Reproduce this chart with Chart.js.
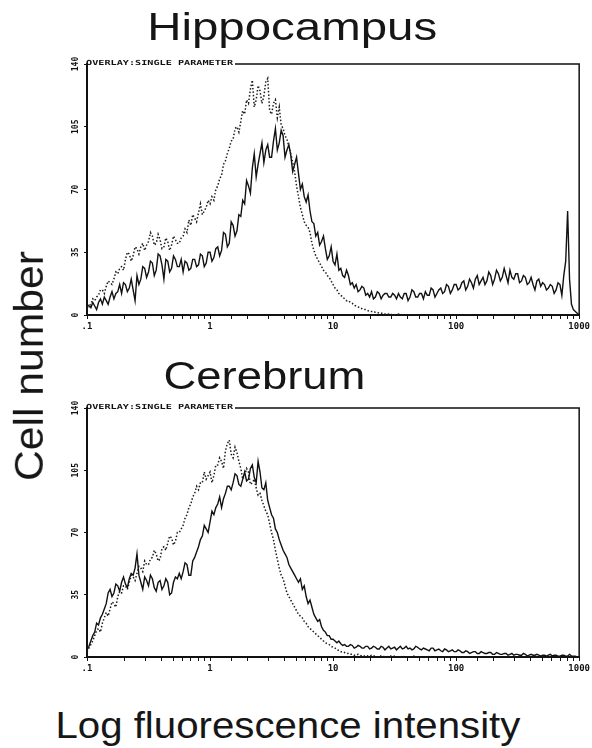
<!DOCTYPE html>
<html><head><meta charset="utf-8">
<script src="https://cdn.jsdelivr.net/npm/chart.js@4.4.0/dist/chart.umd.min.js"></script>
<style>
html,body{margin:0;padding:0;background:#fff;width:592px;height:748px;overflow:hidden;position:relative}
canvas{position:absolute;left:0}
.lbl{position:absolute;font-family:"Liberation Sans",Arial,sans-serif;color:#161616;white-space:nowrap;line-height:1;transform-origin:50% 50%;z-index:2}
</style></head><body>
<div id="t1" class="lbl">Hippocampus</div>
<div id="t2" class="lbl">Cerebrum</div>
<div id="ty" class="lbl">Cell number</div>
<div id="tx" class="lbl">Log fluorescence intensity</div>
<canvas id="c1" width="592" height="345" style="top:0"></canvas>
<canvas id="c2" width="592" height="345" style="top:345px"></canvas>
<script>
// channel grid (1024 channels over 4 log decades)
const channels = [
  0,4,8,12,16,20,24,28,32,36,40,44,48,52,56,60,
  64,68,72,76,80,84,88,92,96,100,104,108,112,116,120,124,
  128,132,136,140,144,148,152,156,160,164,168,172,176,180,184,188,
  192,196,200,204,208,212,216,220,224,228,232,236,240,244,248,252,
  256,260,264,268,272,276,280,284,288,292,296,300,304,308,312,316,
  320,324,328,332,336,340,344,348,352,356,360,364,368,372,376,380,
  384,388,392,396,400,404,408,412,416,420,424,428,432,436,440,444,
  448,452,456,460,464,468,472,476,480,484,488,492,496,500,504,508,
  512,516,520,524,528,532,536,540,544,548,552,556,560,564,568,572,
  576,580,584,588,592,596,600,604,608,612,616,620,624,628,632,636,
  640,644,648,652,656,660,664,668,672,676,680,684,688,692,696,700,
  704,708,712,716,720,724,728,732,736,740,744,748,752,756,760,764,
  768,772,776,780,784,788,792,796,800,804,808,812,816,820,824,828,
  832,836,840,844,848,852,856,860,864,868,872,876,880,884,888,892,
  896,900,904,908,912,916,920,924,928,932,936,940,944,948,952,956,
  960,964,968,972,976,980,984,988,992,996,1000,1004,1008,1012,1016,1020,
  1024];
const xTickValues = [0.1, 1, 10, 100, 1000];
const xTickLabels = ['.1', '1', '10', '100', '1000'];
const yTickValues = [0, 35, 70, 105, 140];
const panelTitles = ['Hippocampus', 'Cerebrum'];
const overlayText = 'OVERLAY:SINGLE PARAMETER';

const hippoSolid = [
  6,5,4,7,5,3,7,9,6,10,8,6,10,13,9,12,
  13,17,12,18,17,13,15,20,14,8,22,17,20,27,26,21,
  24,30,29,22,25,34,33,28,20,31,30,24,26,33,31,27,
  27,31,24,30,29,25,26,31,31,27,28,34,33,27,29,35,
  35,30,32,37,38,33,36,46,45,38,40,52,50,44,47,56,
  55,64,62,75,72,68,82,90,77,84,90,96,85,92,95,88,
  88,97,104,92,96,103,100,88,92,95,89,80,84,88,79,70,
  73,66,63,67,58,52,51,44,46,39,41,44,37,31,33,38,
  30,28,34,25,26,22,21,25,22,17,18,15,17,13,14,16,
  15,11,12,10,13,9,10,13,12,9,11,12,12,10,10,12,
  11,9,12,10,9,12,12,8,10,14,13,10,10,12,12,9,
  13,11,11,15,14,10,12,14,15,12,13,17,16,12,14,17,
  17,14,15,18,19,14,16,20,18,15,20,22,17,19,21,17,
  19,24,22,17,20,25,23,19,21,26,22,18,25,21,20,23,
  23,18,19,22,21,17,18,21,17,14,19,20,16,18,17,14,
  15,17,16,12,14,18,17,11,22,30,58,20,6,3,2,1,
  0];
const hippoDotted = [
  4,5,6,9,8,10,11,14,14,12,16,19,18,17,20,24,
  23,26,27,25,31,35,34,30,33,38,37,34,38,40,36,39,
  41,46,44,39,40,45,42,37,38,43,41,36,39,44,42,40,
  40,43,44,48,46,53,50,56,54,52,57,62,56,58,60,64,
  62,66,64,70,72,76,78,84,86,90,93,97,98,104,105,102,
  108,114,112,120,118,126,131,116,120,128,125,118,122,130,132,114,
  112,118,120,110,116,106,104,100,98,94,90,85,80,72,66,60,
  56,52,50,49,46,40,36,33,31,29,27,25,24,22,21,19,
  17,15,14,12,11,10,9,8,8,7,6.5,5.5,5,4.5,4,3.5,
  3,3,2.5,2,2,2,1.5,1.5,1,1,1,0.5,0.5,0.5,0.5,0,
  0,0,0.5,0,0,0,0,0,0,0,0,0,0,0,0,0,
  0,0,0,0,0,0,0,0,0,0,0,0,0,0,0,0,
  0,0,0,0,0,0,0,0,0,0,0,0,0,0,0,0,
  0,0,0,0,0,0,0,0,0,0,0,0,0,0,0,0,
  0,0,0,0,0,0,0,0,0,0,0,0,0,0,0,0,
  0,0,0,0,0,0,0,0,0,0,0,0,0,0,0,0,
  0];
const cerebSolid = [
  4,6,9,12,14,19,18,22,24,27,30,36,38,34,36,41,
  40,37,42,45,41,39,44,47,46,50,58,46,42,38,45,43,
  40,46,44,39,37,42,43,38,40,44,42,35,36,42,45,44,
  47,44,48,53,52,46,46,54,56,59,62,66,68,74,72,70,
  76,82,80,84,86,90,84,89,92,96,96,94,98,103,102,97,
  96,100,104,99,100,106,108,101,98,110,104,95,94,98,88,84,
  80,78,72,70,66,63,60,58,56,52,50,48,46,44,42,44,
  38,40,34,30,32,28,24,22,20,21,17,15,14,12,12,10,
  10,9,8,9,7.5,6.5,7,6,6,7,6.5,5,5.5,6.5,6,5,
  5,6,6,4.5,5,6,5.5,4.5,4.5,6,5.5,4,5,6,4.5,5,
  5.5,4,5,6,4.5,5,6,4.5,5,4,4.5,6,5.5,4.5,4,5,
  4.5,4,3.5,5,5,3.5,4,4.5,3.5,3,4.5,4,3,3.5,4,3,
  3,4,3.5,2.5,2.5,3.5,3,2,2.5,3,3,2,2,3,2.5,2,
  2,2.5,2.5,1.5,1.5,2.5,2,1.5,1.5,2,2,1,1.5,2,1,1.5,
  1.5,1,1,2,1.5,0.5,1,1.5,1,1,1.5,1,0.5,1,1,0.5,
  1,1.5,0.5,1,1,0.5,0.5,1,1,0.5,0.5,1.5,0.5,0.5,0.5,0,
  0];
const cerebDotted = [
  3,5,7,9,12,15,16,14,19,22,25,23,27,31,30,28,
  34,37,36,40,40,38,42,46,45,43,47,51,50,48,54,52,
  52,55,56,60,58,54,55,61,62,60,64,68,67,63,65,70,
  70,72,74,78,80,84,86,90,92,96,94,98,98,104,100,102,
  104,98,102,108,108,112,110,106,116,120,122,114,112,118,115,110,
  106,100,102,106,104,97,98,100,95,91,92,88,85,82,80,75,
  70,66,60,55,50,46,44,40,36,34,32,30,28,26,24,23,
  22,20,19,17,16,15,14,13,12,11,10,9,8,7.5,7,6,
  5.5,5,4.5,3.5,3,3,2.5,2,2,1.5,1.5,1,1,1.5,1,0.5,
  0.5,1,0.5,0.5,1,0.5,0.5,0,0.5,0.5,0.5,0,0,0.5,0.5,0,
  0.5,0,0,0,0.5,0,0,0,0,0,0.5,0,0,0,0,0,
  0,0,0.5,0,0,0,0,0,0,0,0,0,0,0,0,0,
  0,0,0,0,0,0,0,0,0,0,0,0,0,0,0,0,
  0,0,0,0,0,0,0,0,0,0,0,0,0,0,0,0,
  0,0,0,0,0,0,0,0,0,0,0,0,0,0,0,0,
  0,0,0,0,0,0,0,0,0,0,0,0,0,0,0,0,
  0];

const chToIntensity = ch => 0.1 * Math.pow(10, ch / 256);
const toPoints = vals => channels.map((ch, i) => ({ x: chToIntensity(ch), y: vals[i] ?? 0 }));

const framePlugin = {
  id: 'frame',
  afterDraw(chart, args, opts) {
    const { ctx, chartArea: a } = chart;
    ctx.save();
    ctx.fillStyle = '#111';
    ctx.font = 'bold 7px "DejaVu Sans Mono"';
    const w = ctx.measureText(overlayText).width;
    const k = opts.textWidth / w;
    ctx.translate(a.left - 1, a.top + 1);
    ctx.scale(k, 1);
    ctx.textBaseline = 'alphabetic';
    ctx.fillText(overlayText, 0, 0);
    ctx.restore();
    ctx.save();
    ctx.strokeStyle = '#111';
    ctx.lineWidth = 1.5;
    ctx.beginPath();
    ctx.moveTo(a.left + opts.textWidth + 1, a.top);
    ctx.lineTo(a.right, a.top);
    ctx.lineTo(a.right, a.bottom);
    ctx.stroke();
    ctx.restore();
  }
};

function makeChart(id, solid, dotted, padTop, padBottom) {
  return new Chart(document.getElementById(id), {
    type: 'line',
    data: {
      datasets: [
        { data: toPoints(dotted), borderColor: '#1c1c1c', borderWidth: 1.5, borderDash: [1.5, 2], pointRadius: 0, tension: 0 },
        { data: toPoints(solid), borderColor: '#111', borderWidth: 1.4, pointRadius: 0, tension: 0 }
      ]
    },
    options: {
      responsive: false, animation: false, devicePixelRatio: 1,
      layout: { padding: { left: 57, right: 11, top: padTop, bottom: padBottom } },
      plugins: { legend: { display: false }, tooltip: { enabled: false }, frame: { textWidth: 147 } },
      scales: {
        x: {
          type: 'logarithmic', min: 0.1, max: 1000,
          afterFit: s => { s.height = 30; },
          ticks: {
            autoSkip: false, maxRotation: 0, minRotation: 0, padding: 2, color: '#111',
            font: { family: 'DejaVu Sans Mono', size: 9, weight: 'bold' },
            callback: v => {
              const i = xTickValues.findIndex(t => Math.abs(Math.log10(v) - Math.log10(t)) < 1e-6);
              return i >= 0 ? xTickLabels[i] : '';
            }
          },
          grid: { drawOnChartArea: false, tickLength: 4, color: '#111', lineWidth: 1 },
          border: { color: '#111', width: 2 }
        },
        y: {
          type: 'linear', min: 0, max: 140,
          afterFit: s => { s.width = 30; },
          afterBuildTicks: s => { s.ticks = yTickValues.map(v => ({ value: v })); },
          ticks: {
            minRotation: 90, maxRotation: 90, crossAlign: 'center', padding: 1, color: '#111',
            font: { family: 'DejaVu Sans Mono', size: 8, weight: 'bold' }
          },
          grid: { drawOnChartArea: false, tickLength: 3, color: '#111', lineWidth: 1 },
          border: { color: '#111', width: 2 }
        }
      }
    },
    plugins: [framePlugin]
  });
}

makeChart('c1', hippoSolid, hippoDotted, 64, 0);
makeChart('c2', cerebSolid, cerebDotted, 63, 3);

document.getElementById('t1').textContent = panelTitles[0];
document.getElementById('t2').textContent = panelTitles[1];

function place(id, size, cx, cy, targetW, rotate) {
  const el = document.getElementById(id);
  el.style.fontSize = size + 'px';
  const w = el.getBoundingClientRect().width;
  el.style.left = (cx - w / 2) + 'px';
  el.style.top = (cy - size / 2) + 'px';
  const k = targetW / w;
  el.style.transform = (rotate ? 'rotate(-90deg) ' : '') + 'scaleX(' + k + ')';
}
// cy given as box centre; baseline sits 0.3465*size below centre
place('t1', 38, 292, 40 - 0.3465 * 38, 290, false);
place('t2', 38, 264, 389 - 0.3465 * 38, 202, false);
place('tx', 37, 287.5, 738 - 0.3465 * 37, 465, false);
place('ty', 40, 43 - 0.3465 * 40, 366, 230, true);
</script>
</body></html>
